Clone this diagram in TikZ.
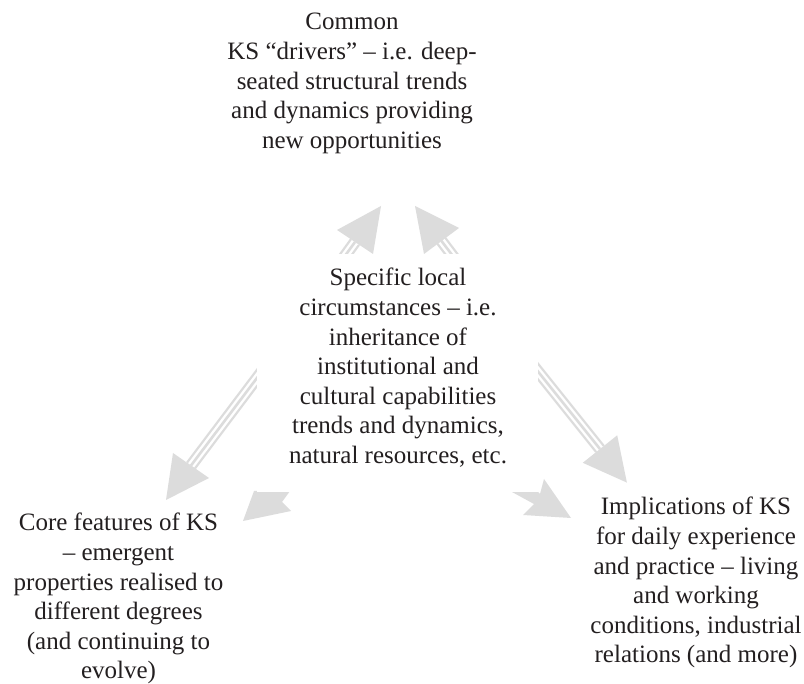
\documentclass[tikz,border=0pt]{standalone}
\usepackage{fontspec}
\setmainfont{Liberation Serif}
\definecolor{ag}{RGB}{220,220,220}
\definecolor{ink}{RGB}{35,31,32}
\newcommand\blk[1]{\vtop{\baselineskip=29.6pt\lineskiplimit=-20pt\halign{\hfil##\hfil\cr#1\crcr}}}
\newcommand\stripedshaft[2]{%
  \draw[ag, line width=12pt] #1 -- #2;
  \draw[white, line width=7.4pt] #1 -- #2;
  \draw[ag, line width=2.6pt] #1 -- #2;}
\begin{document}
\begin{tikzpicture}[x=1pt,y=-1pt,
  txt/.style={inner sep=0pt, anchor=base, text=ink, font=\fontsize{25}{29.6}\selectfont},
  headshape/.style={fill=ag, draw=none},
  coverbox/.style={fill=white, draw=none, inner sep=0pt, minimum width=281pt, minimum height=238pt}]
\useasboundingbox[fill=white] (0,0) rectangle (804,684);

% shaft start/end points
\coordinate (s1a) at (334,271); \coordinate (s1b) at (355,242);
\coordinate (s2a) at (462.7,269); \coordinate (s2b) at (441.5,241);
\coordinate (s3a) at (266,366); \coordinate (s3b) at (191,465.5);
\coordinate (s4a) at (528,359); \coordinate (s4b) at (600,449);

\stripedshaft{(s1a)}{(s1b)}
\stripedshaft{(s2a)}{(s2b)}
\stripedshaft{(s3a)}{(s3b)}
\stripedshaft{(s4a)}{(s4b)}

% arrow heads
\fill[headshape] (381,206) -- (337,230) -- (373,254) -- cycle;
\fill[headshape] (415,206) -- (459,228) -- (424,254) -- cycle;
\fill[headshape] (173,453) -- (209,478) -- (166,500) -- cycle;
\fill[headshape] (582.8,462.8) -- (617.2,435.3) -- (626.9,482.6) -- cycle;
% partly hidden heads below the centre
\fill[headshape] (254,491) -- (290,491) -- (282,502) -- (291,511) -- (243,521) -- cycle;
\fill[headshape] (512,492) -- (538,492) -- (540,494) -- (544,479) -- (571,518) -- (523,515) -- (534,504) -- cycle;

% white box covering the shafts behind the centre text
\node[coverbox] (ctrbox) at (397.5,373) {};

% texts
\node[txt] (top) at (352,30) {\blk{Common\cr
KS “drivers” – i.e. deep-\cr
seated structural trends\cr
and dynamics providing\cr
new opportunities}};
\node[txt] (ctr) at (398,286) {\blk{Specific local\cr
circumstances – i.e.\cr
inheritance of\cr
institutional and\cr
cultural capabilities\cr
trends and dynamics,\cr
natural resources, etc.}};
\node[txt] (core) at (118.5,531) {\blk{Core features of KS\cr
– emergent\cr
properties realised to\cr
different degrees\cr
(and continuing to\cr
evolve)}};
\node[txt] (impl) at (696,515) {\blk{Implications of KS\cr
for daily experience\cr
and practice – living\cr
and working\cr
conditions, industrial\cr
relations (and more)}};
\end{tikzpicture}
\end{document}
